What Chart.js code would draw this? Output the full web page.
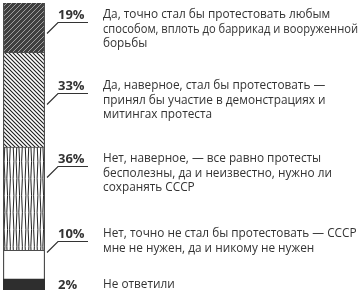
<!DOCTYPE html>
<html lang="ru">
<head>
<meta charset="UTF-8">
<title>Стали бы вы протестовать</title>
<script src="https://cdn.jsdelivr.net/npm/chart.js"></script>
<style>
    html, body { margin: 0; padding: 0; background: #fff; }
    .wrap { width: 359px; height: 293px; }
</style>
</head>
<body>
<div class="wrap"><canvas id="protestChart" width="359" height="293"></canvas></div>
<script>
// ответы (строки переносятся как на картинке)
const answers = [
    ['Да, точно стал бы протестовать любым', 'способом, вплоть до баррикад и вооруженной', 'борьбы'],
    ['Да, наверное, стал бы протестовать —', 'принял бы участие в демонстрациях и', 'митингах протеста'],
    ['Нет, наверное, — все равно протесты', 'бесполезны, да и неизвестно, нужно ли', 'сохранять СССР'],
    ['Нет, точно не стал бы протестовать — СССР', 'мне не нужен, да и никому не нужен'],
    ['Не ответили']
];
const shares = [19, 33, 36, 10, 2];
const shareLabels = ['19%', '33%', '36%', '10%', '2%'];

function makePattern(kind) {
    const c = document.createElement('canvas');
    const g = c.getContext('2d');
    if (kind === 'cross') {
        c.width = 5; c.height = 5;
        g.fillStyle = '#3f3f3f';
        g.fillRect(0, 0, 5, 5);
        g.strokeStyle = 'rgba(225,225,225,0.75)';
        g.lineWidth = 0.8;
        g.beginPath();
        g.moveTo(-1, 6); g.lineTo(6, -1);
        g.moveTo(-1, 1); g.lineTo(1, -1);
        g.moveTo(4, 6); g.lineTo(6, 4);
        g.stroke();
    } else if (kind === 'diag') {
        c.width = 4; c.height = 4;
        g.fillStyle = '#fff';
        g.fillRect(0, 0, 4, 4);
        g.strokeStyle = '#1e1e1e';
        g.lineWidth = 1.1;
        g.beginPath();
        g.moveTo(-1, -1); g.lineTo(5, 5);
        g.moveTo(3, -1); g.lineTo(5, 1);
        g.moveTo(-1, 3); g.lineTo(1, 5);
        g.stroke();
    } else if (kind === 'wave') {
        c.width = 12; c.height = 34;
        g.fillStyle = '#fff';
        g.fillRect(0, 0, 12, 34);
        g.strokeStyle = '#222';
        g.lineWidth = 1;
        [1.5, 4.5, 7.2, 10].forEach((x, k) => {
            const a = k % 2 ? 1.3 : -1.3;
            g.beginPath();
            g.moveTo(x, 0);
            g.bezierCurveTo(x + a, 11, x - a, 23, x, 34);
            g.stroke();
        });
    }
    return g.createPattern(c, 'repeat');
}

const fills = [makePattern('cross'), makePattern('diag'), makePattern('wave'), '#ffffff', '#2e2e2e'];

// стек снизу вверх: "не ответили" внизу
const datasets = [];
for (let i = shares.length - 1; i >= 0; i--) {
    const last = i === shares.length - 1;
    datasets.push({
        label: answers[i].join(' '),
        data: [shares[i]],
        backgroundColor: fills[i],
        borderColor: '#4d4d4d',
        borderWidth: last ? 0 : { left: 1.5, right: 1.5, top: 1, bottom: 0 },
        borderSkipped: false,
        barThickness: last ? 46 : 42,
        minBarLength: last ? 11 : 0
    });
}

const labelsPlugin = {
    id: 'sideLabels',
    afterDatasetsDraw(chart) {
        const ctx = chart.ctx;
        const rows = [15, 86, 159, 234, 285];
        const pctX = 58, textX = 103;
        ctx.save();
        for (let i = 0; i < shares.length; i++) {
            const meta = chart.getDatasetMeta(shares.length - 1 - i);
            const bar = meta.data[0];
            const edge = bar.x + 21 + 2;
            const y = rows[i];

            ctx.fillStyle = '#333';
            ctx.textBaseline = 'middle';
            ctx.textAlign = 'left';
            ctx.font = 'bold 13px "Open Sans"';
            ctx.fillText(shareLabels[i], pctX, y);

            if (i < shares.length - 1) {
                const uy = y + 7.5;
                ctx.strokeStyle = '#333';
                ctx.lineWidth = 1.2;
                ctx.beginPath();
                ctx.moveTo(88, uy);
                ctx.lineTo(pctX, uy);
                ctx.lineTo(edge, uy + 11);
                ctx.stroke();
            }

            ctx.fillStyle = '#333';
            ctx.font = '11.8px "Open Sans"';
            answers[i].forEach((line, k) => {
                ctx.fillText(line, textX, y + k * 14.5, 255);
            });
        }
        ctx.restore();
    }
};

new Chart(document.getElementById('protestChart'), {
    type: 'bar',
    data: { labels: [''], datasets: datasets },
    options: {
        responsive: false,
        animation: false,
        layout: { padding: { left: 3, right: 314, top: 3, bottom: 3 } },
        scales: {
            x: { stacked: true, display: false },
            y: { stacked: true, display: false, min: 0, max: 100 }
        },
        plugins: { legend: { display: false }, tooltip: { enabled: false } }
    },
    plugins: [labelsPlugin]
});
</script>
</body>
</html>
